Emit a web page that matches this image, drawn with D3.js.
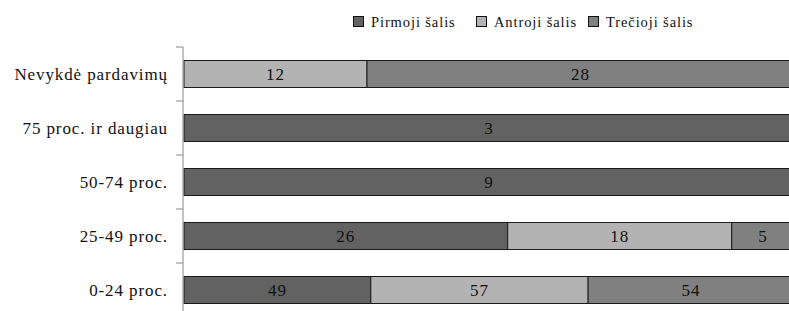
<!DOCTYPE html>
<html>
<head>
<meta charset="utf-8">
<script src="https://cdn.jsdelivr.net/npm/d3@7"></script>
<style>
  body { margin: 0; background: #fff; }
</style>
</head>
<body>
<div id="chart"></div>
<script>
// categories, top to bottom
const categories = ["Nevykdė pardavimų", "75 proc. ir daugiau", "50-74 proc.", "25-49 proc.", "0-24 proc."];
const seriesNames = ["Pirmoji šalis", "Antroji šalis", "Trečioji šalis"];
const pirmoji = [0, 3, 9, 26, 49];
const antroji = [12, 0, 0, 18, 57];
const trecioji = [28, 0, 0, 5, 54];
const colors = ["#626262", "#b3b3b3", "#808080"];

const w = 789, h = 311;
const margin = { top: 47, left: 184 };
const plotW = 610;
const bandH = 54;
const serif = "\"Liberation Serif\"";

const rows = categories.map((c, i) => ({
  cat: c,
  vals: [pirmoji[i], antroji[i], trecioji[i]]
}));

const svg = d3.select("#chart").append("svg")
  .attr("width", w)
  .attr("height", h);

const yScale = d3.scaleBand()
  .domain(categories)
  .range([margin.top, margin.top + bandH * categories.length])
  .paddingInner(0.5)
  .paddingOuter(0.25);

const xScale = d3.scaleLinear()
  .domain([0, 1])
  .range([margin.left, margin.left + plotW]);

// bars
rows.forEach((r) => {
  const total = d3.sum(r.vals);
  let acc = 0;
  r.vals.forEach((v, j) => {
    if (v === 0) return;
    const x0 = xScale(acc / total);
    const x1 = xScale((acc + v) / total);
    acc += v;
    svg.append("rect")
      .attr("x", x0)
      .attr("y", yScale(r.cat))
      .attr("width", x1 - x0)
      .attr("height", yScale.bandwidth())
      .attr("fill", colors[j])
      .attr("stroke", "#1a1a1a")
      .attr("stroke-width", 1);
    svg.append("text")
      .attr("x", (x0 + x1) / 2)
      .attr("y", yScale(r.cat) + yScale.bandwidth() / 2 + 6)
      .attr("text-anchor", "middle")
      .style("font-family", serif)
      .style("font-size", "17px")
      .style("letter-spacing", "1px")
      .attr("fill", "#111")
      .text(v);
  });
});

// y axis (ticks between categories)
const axisX = margin.left - 1;
svg.append("line")
  .attr("x1", axisX).attr("x2", axisX)
  .attr("y1", margin.top).attr("y2", margin.top + bandH * categories.length)
  .attr("stroke", "#888").attr("stroke-width", 1);
d3.range(categories.length + 1).forEach((i) => {
  const y = margin.top + i * bandH;
  svg.append("line")
    .attr("x1", axisX - 7).attr("x2", axisX)
    .attr("y1", y).attr("y2", y)
    .attr("stroke", "#888").attr("stroke-width", 1);
});
categories.forEach((c) => {
  svg.append("text")
    .attr("x", 168)
    .attr("y", yScale(c) + yScale.bandwidth() / 2 + 6)
    .attr("text-anchor", "end")
    .style("font-family", serif)
    .style("font-size", "17px")
    .style("letter-spacing", "0.9px")
    .attr("fill", "#111")
    .text(c);
});

// legend
const legendX = [353, 476, 588];
seriesNames.forEach((s, j) => {
  svg.append("rect")
    .attr("x", legendX[j] + 0.5).attr("y", 16.5)
    .attr("width", 10).attr("height", 10)
    .attr("fill", colors[j])
    .attr("stroke", "#111");
  svg.append("text")
    .attr("x", legendX[j] + 18)
    .attr("y", 27)
    .style("font-family", serif)
    .style("font-size", "14.5px")
    .style("letter-spacing", "0.9px")
    .attr("fill", "#111")
    .text(s);
});
</script>
</body>
</html>
